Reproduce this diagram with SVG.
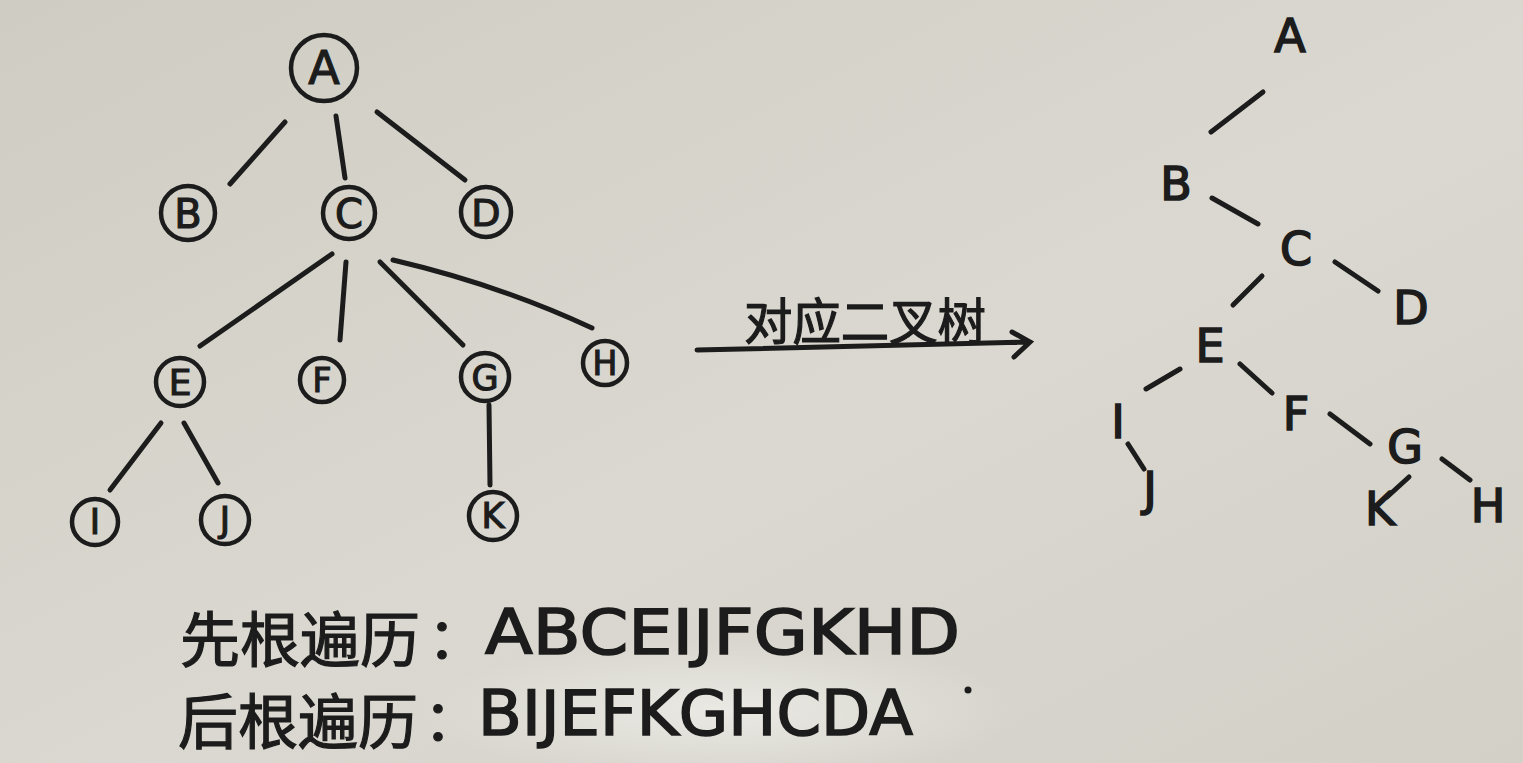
<svg xmlns="http://www.w3.org/2000/svg" width="1523" height="763" viewBox="0 0 1523 763">
<defs>
<linearGradient id="bg" x1="0" y1="0" x2="1" y2="1">
<stop offset="0" stop-color="#cfcdc3"/>
<stop offset="0.55" stop-color="#dad8d0"/>
<stop offset="1" stop-color="#d2d0c7"/>
</linearGradient>
<radialGradient id="glow" cx="0.5" cy="0.5" r="0.5">
<stop offset="0" stop-color="#ecebe6" stop-opacity="0.9"/>
<stop offset="1" stop-color="#ecebe6" stop-opacity="0"/>
</radialGradient>
<style>
.ink{stroke:#1c1c1c;stroke-width:5;stroke-linecap:round;fill:none}
.ring{stroke:#1c1c1c;stroke-width:4.5;fill:none}
.lt{font-family:"DejaVu Sans","Liberation Sans",sans-serif;fill:#1c1c1c;stroke:#1c1c1c;stroke-width:1.2;text-anchor:middle}
.big{font-family:"DejaVu Sans","Liberation Sans",sans-serif;fill:#1c1c1c;stroke:#1c1c1c;stroke-width:1.6;text-anchor:middle;font-size:46px}
.cn{font-family:"Noto Sans CJK SC","Noto Sans",sans-serif;fill:#1c1c1c;stroke:#1c1c1c;stroke-width:1.2}
.seq{font-family:"DejaVu Sans","Liberation Sans",sans-serif;fill:#1c1c1c;stroke:#1c1c1c;stroke-width:1.6}
</style>
</defs>
<rect width="1523" height="763" fill="url(#bg)"/>
<ellipse cx="720" cy="710" rx="300" ry="70" fill="url(#glow)"/>

<g id="connectors">
<line class="ink" x1="285" y1="122" x2="230" y2="184"/>
<line class="ink" x1="336" y1="116" x2="345" y2="178"/>
<line class="ink" x1="377" y1="112" x2="465" y2="180"/>
<line class="ink" x1="332" y1="254" x2="200" y2="346"/>
<line class="ink" x1="346" y1="262" x2="340" y2="340"/>
<line class="ink" x1="380" y1="262" x2="463" y2="345"/>
<path class="ink" d="M393 260 Q500 285 592 328"/>
<line class="ink" x1="161" y1="423" x2="110" y2="490"/>
<line class="ink" x1="184" y1="423" x2="218" y2="483"/>
<line class="ink" x1="489" y1="405" x2="490" y2="485"/>

<path class="ink" d="M697 350 L1030 342 M1012 332 L1030 342 L1014 357"/>

<line class="ink" x1="1263" y1="92" x2="1211" y2="132"/>
<line class="ink" x1="1212" y1="198" x2="1258" y2="224"/>
<line class="ink" x1="1335" y1="262" x2="1378" y2="291"/>
<line class="ink" x1="1262" y1="276" x2="1233" y2="305"/>
<line class="ink" x1="1180" y1="369" x2="1146" y2="389"/>
<line class="ink" x1="1240" y1="364" x2="1272" y2="393"/>
<line class="ink" x1="1128" y1="444" x2="1144" y2="469"/>
<line class="ink" x1="1330" y1="414" x2="1370" y2="444"/>
<line class="ink" x1="1442" y1="459" x2="1470" y2="480"/>
<line class="ink" x1="1409" y1="477" x2="1387" y2="497"/>
</g>

<g id="node-A"><circle class="ring" cx="324" cy="68" r="33"/><text class="lt" x="324" y="84" font-size="46">A</text></g>
<g id="node-B"><circle class="ring" cx="188" cy="213" r="27"/><text class="lt" x="188" y="228" font-size="40">B</text></g>
<g id="node-C"><circle class="ring" cx="349" cy="213" r="26"/><text class="lt" x="349" y="228" font-size="40">C</text></g>
<g id="node-D"><circle class="ring" cx="486" cy="212" r="25"/><text class="lt" x="486" y="226" font-size="38">D</text></g>
<g id="node-E"><circle class="ring" cx="180" cy="382" r="24"/><text class="lt" x="180" y="395" font-size="36">E</text></g>
<g id="node-F"><circle class="ring" cx="322" cy="380" r="22"/><text class="lt" x="322" y="392" font-size="33">F</text></g>
<g id="node-G"><circle class="ring" cx="485" cy="377" r="24"/><text class="lt" x="485" y="390" font-size="35">G</text></g>
<g id="node-H"><circle class="ring" cx="605" cy="363" r="22"/><text class="lt" x="605" y="375" font-size="33">H</text></g>
<g id="node-I"><circle class="ring" cx="95" cy="522" r="23"/><text class="lt" x="95" y="534" font-size="35">I</text></g>
<g id="node-J"><circle class="ring" cx="225" cy="520" r="24"/><text class="lt" x="225" y="532" font-size="35">J</text></g>
<g id="node-K"><circle class="ring" cx="493" cy="516" r="24"/><text class="lt" x="493" y="528" font-size="35">K</text></g>

<g id="label-arrow"><text class="cn" x="744" y="340" font-size="50" textLength="242" lengthAdjust="spacingAndGlyphs">对应二叉树</text></g>

<g id="bt-A"><text class="big" x="1290" y="52">A</text></g>
<g id="bt-B"><text class="big" x="1176" y="200">B</text></g>
<g id="bt-C"><text class="big" x="1296" y="265">C</text></g>
<g id="bt-D"><text class="big" x="1411" y="324">D</text></g>
<g id="bt-E"><text class="big" x="1210" y="362">E</text></g>
<g id="bt-I"><text class="big" x="1118" y="438">I</text></g>
<g id="bt-F"><text class="big" x="1296" y="430">F</text></g>
<g id="bt-G"><text class="big" x="1405" y="463">G</text></g>
<g id="bt-J"><text class="big" x="1150" y="505">J</text></g>
<g id="bt-K"><text class="big" x="1380" y="525">K</text></g>
<g id="bt-H"><text class="big" x="1488" y="522">H</text></g>

<g id="preorder">
<text class="cn" x="180" y="662" font-size="60" textLength="240" lengthAdjust="spacingAndGlyphs">先根遍历</text>
<text class="cn" x="428" y="658" font-size="56">：</text>
<text class="seq" x="485" y="654" font-size="62" textLength="475" lengthAdjust="spacingAndGlyphs">ABCEIJFGKHD</text>
</g>
<g id="postorder">
<text class="cn" x="178" y="744" font-size="60" textLength="240" lengthAdjust="spacingAndGlyphs">后根遍历</text>
<text class="cn" x="424" y="740" font-size="56">：</text>
<text class="seq" x="478" y="735" font-size="62" textLength="435" lengthAdjust="spacingAndGlyphs">BIJEFKGHCDA</text>
<circle cx="968" cy="690" r="3.5" fill="#1c1c1c"/>
</g>
</svg>
